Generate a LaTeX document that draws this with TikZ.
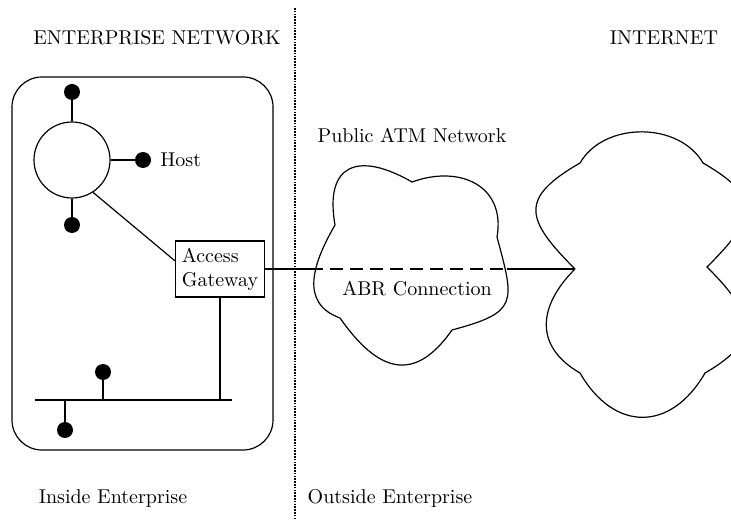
\documentclass[tikz,border=0pt]{standalone}
\usepackage{tikz}
\usetikzlibrary{positioning}
\tikzset{
  wire/.style={
    line width=0.6pt
  },
  lanbus/.style={
    line width=1pt
  },
  station/.style={
    circle,
    fill=black,
    inner sep=0pt,
    minimum size=8pt
  },
  ringnet/.style={
    circle,
    draw,
    line width=0.6pt,
    inner sep=0pt,
    minimum size=38pt
  },
  gateway/.style={
    draw,
    line width=0.6pt,
    align=left,
    inner sep=3pt,
    minimum width=44pt,
    minimum height=28pt
  },
  site/.style={
    draw,
    line width=0.6pt,
    rounded corners=15pt
  },
  cloudline/.style={
    line width=0.6pt
  },
  divider/.style={
    line width=1.1pt,
    dash pattern=on 0.8pt off 0.6pt
  },
  abrline/.style={
    line width=0.6pt,
    dash pattern=on 6.5pt off 3.5pt
  }
}

\begin{document}
\begin{tikzpicture}[x=0.5pt, y=0.5pt]
  \useasboundingbox (0,0) rectangle (731,519);

  % enterprise side
  \draw[site] (12,69) rectangle (273,442);
  \node[ringnet] (ring) at (72,359) {};
  \node[station] (topst) at (72,427) {};
  \node[station] (lowst) at (72,294) {};
  \node[station] (hostst) at (143,359) {};
  \node[right=1pt of hostst] (host) {Host};
  \node[gateway] (gw) at (220,250) {Access\\Gateway};
  \coordinate (busL) at (35,119);
  \coordinate (busR) at (232,119);
  \node[station] (busup) at (103,147) {};
  \node[station] (busdown) at (65,89) {};

  \draw[wire] (ring) -- (topst);
  \draw[wire] (ring) -- (lowst);
  \draw[wire] (ring) -- (hostst);
  \draw[wire] (ring.-57) -- (gw.170);
  \draw[lanbus] (busL) -- (busR);
  \draw[wire] (gw.south) -- (gw.south |- busR);
  \draw[wire] (busup) -- (busup |- busL);
  \draw[wire] (busdown) -- (busdown |- busL);

  % border between inside and outside
  \coordinate (divtop) at (295,511);
  \coordinate (divbot) at (295,0);
  \draw[divider] (divtop) -- (divbot);

  % public ATM cloud
  \coordinate (atmA) at (335,294);
  \coordinate (atmB) at (412,337);
  \coordinate (atmC) at (497,282);
  \coordinate (atmD) at (452,189);
  \coordinate (atmE) at (340,201);
  \draw[cloudline] (atmA)
    to[out=100, in=150, looseness=1.8] (atmB)
    to[out=20, in=80, looseness=1.3] (atmC)
    to[out=-75, in=15, looseness=1.7] (atmD)
    to[out=-125, in=-55, looseness=1.5] (atmE)
    to[out=160, in=-120, looseness=1.2] (atmA);

  % internet cloud, runs past the right edge
  \coordinate (netW) at (575,250);
  \coordinate (netNW) at (580,356);
  \coordinate (netNE) at (703,356);
  \coordinate (netE) at (707,252);
  \coordinate (netSE) at (705,146);
  \coordinate (netSW) at (580,146);
  \begin{scope}
    \clip (0,0) rectangle (731,519);
    \draw[cloudline] (netW)
      to[out=135, in=-150, looseness=1.7] (netNW)
      to[out=60, in=120] (netNE)
      to[out=-30, in=45, looseness=1.7] (netE)
      to[out=-45, in=30, looseness=1.6] (netSE)
      to[out=-120, in=-60, looseness=1.4] (netSW)
      to[out=150, in=-135, looseness=1.3] (netW);
  \end{scope}

  % ABR connection through the ATM network
  \coordinate (atmin) at (310,250);
  \coordinate (atmout) at (507,250);
  \draw[wire] (gw.east) -- (atmin);
  \draw[abrline] (atmin) -- (atmout);
  \draw[wire] (atmout) -- (netW);

  % labels
  \node (entlabel) at (157,481) {ENTERPRISE NETWORK};
  \node (netlabel) at (664,481) {INTERNET};
  \node (atmlabel) at (412,384) {Public ATM Network};
  \node (abrlabel) at (417,230) {ABR Connection};
  \node (inlabel) at (113,21) {Inside Enterprise};
  \node (outlabel) at (390,21) {Outside Enterprise};
\end{tikzpicture}
\end{document}
